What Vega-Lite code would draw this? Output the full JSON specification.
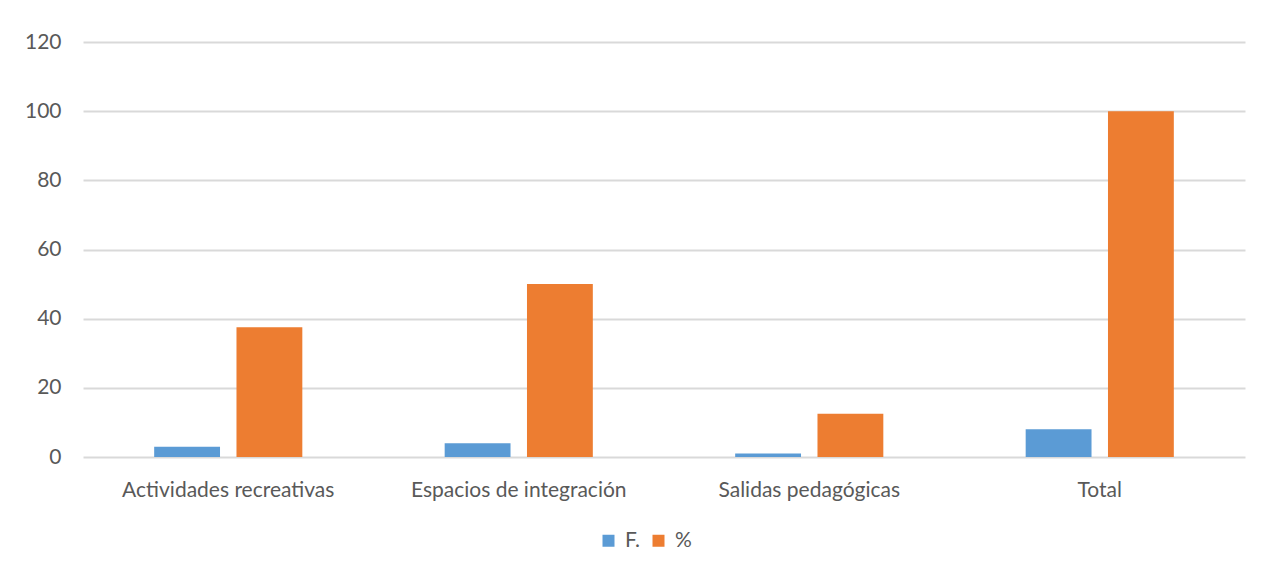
{
  "$schema": "https://vega.github.io/schema/vega-lite/v6.json",
  "autosize": "none",
  "width": 1162,
  "height": 415,
  "padding": {"left": 83, "top": 42, "right": 16, "bottom": 116},
  "background": "white",
  "config": {
    "view": {"stroke": null},
    "font": "Lato",
    "axis": {"labelFont": "Lato", "labelFontSize": 21, "labelColor": "#595959", "labelLimit": 0},
    "legend": {"labelFont": "Lato", "labelFontSize": 21, "labelColor": "#595959"}
  },
  "data": {
    "values": [
      {"categoria": "Actividades recreativas", "serie": "F.", "valor": 3},
      {"categoria": "Actividades recreativas", "serie": "%", "valor": 37.5},
      {"categoria": "Espacios de integración", "serie": "F.", "valor": 4},
      {"categoria": "Espacios de integración", "serie": "%", "valor": 50},
      {"categoria": "Salidas pedagógicas", "serie": "F.", "valor": 1},
      {"categoria": "Salidas pedagógicas", "serie": "%", "valor": 12.5},
      {"categoria": "Total", "serie": "F.", "valor": 8},
      {"categoria": "Total", "serie": "%", "valor": 100}
    ]
  },
  "mark": {"type": "bar"},
  "encoding": {
    "x": {
      "field": "categoria",
      "type": "nominal",
      "sort": null,
      "scale": {"paddingInner": 0.49, "paddingOuter": 0.245},
      "axis": {"title": null, "labelAngle": 0, "ticks": false, "domain": false, "labelPadding": 22}
    },
    "xOffset": {
      "field": "serie",
      "type": "nominal",
      "sort": ["F.", "%"],
      "scale": {"paddingInner": 0.2, "paddingOuter": 0}
    },
    "y": {
      "field": "valor",
      "type": "quantitative",
      "scale": {"domain": [0, 120], "nice": false},
      "axis": {
        "title": null,
        "values": [0, 20, 40, 60, 80, 100, 120],
        "ticks": false,
        "domain": false,
        "labelPadding": 22,
        "gridColor": "#d9d9d9",
        "gridWidth": 2
      }
    },
    "color": {
      "field": "serie",
      "type": "nominal",
      "scale": {"domain": ["F.", "%"], "range": ["#5b9bd5", "#ed7d31"]},
      "legend": {
        "title": null,
        "orient": "none",
        "direction": "horizontal",
        "legendX": 515,
        "legendY": 488,
        "symbolType": "square",
        "symbolSize": 144,
        "symbolStrokeWidth": 0,
        "columnPadding": 8,
        "labelOffset": 6
      }
    }
  }
}
